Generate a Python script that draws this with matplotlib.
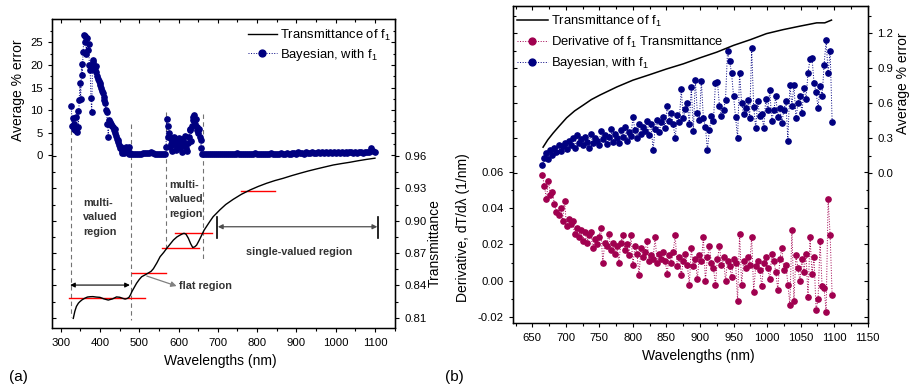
import matplotlib.pyplot as plt
from matplotlib.lines import Line2D
from matplotlib.ticker import MultipleLocator, FixedLocator, FormatStrFormatter

plt.rcParams['font.family'] = ['Liberation Sans', 'DejaVu Sans']
plt.rcParams['mathtext.fontset'] = 'custom'
plt.rcParams['mathtext.rm'] = 'Liberation Sans'
plt.rcParams['mathtext.it'] = 'Liberation Sans:italic'
plt.rcParams['axes.unicode_minus'] = False

NAVY = '#000080'
WINE = '#A0004F'
NOTE = '#333333'

# ---------------- (a) data ----------------
# transmittance of f1
lam_t = [332, 336, 340, 345, 349, 355, 362, 368, 375, 382, 390, 400, 410, 421, 432,
         442, 450, 458, 464, 470, 474, 478, 481, 487, 493, 500, 506, 515, 523, 530,
         536, 545, 553, 562, 570, 579, 587, 596, 604, 610, 614, 619, 625, 631, 636,
         641, 646, 652, 659, 665, 672, 680, 688, 697, 705, 720, 739, 760, 782, 803,
         824, 845, 866, 888, 909, 930, 951, 973, 994, 1015, 1036, 1057, 1079, 1100]
trans_t = [0.8094, 0.8160, 0.8205, 0.8235, 0.8250, 0.8268, 0.8282, 0.8292, 0.8295, 0.8296,
           0.8292, 0.8289, 0.8275, 0.8264, 0.8275, 0.8293, 0.8290, 0.8280, 0.8273, 0.8280,
           0.8290, 0.8315, 0.8341, 0.8380, 0.8419, 0.8455, 0.8480, 0.8498, 0.8515, 0.8530,
           0.8555, 0.8610, 0.8666, 0.8705, 0.8744, 0.8785, 0.8821, 0.8850, 0.8867, 0.8878,
           0.8883, 0.8875, 0.8837, 0.8785, 0.8752, 0.8757, 0.8774, 0.8815, 0.8867, 0.8912,
           0.8951, 0.8995, 0.9037, 0.9070, 0.9100, 0.9150, 0.9198, 0.9245, 0.9285, 0.9318,
           0.9347, 0.9372, 0.9393, 0.9418, 0.9440, 0.9461, 0.9480, 0.9499, 0.9517, 0.9530,
           0.9542, 0.9556, 0.9569, 0.9580]

# Bayesian average % error, with f1
lam_e1 = [327, 329, 331, 333, 335, 337, 339, 341, 343, 345,
          347, 349, 351, 353, 355, 357, 359, 361, 363, 365,
          367, 369, 371, 373, 375, 377, 379, 381, 383, 385,
          387, 389, 391, 393, 395, 397, 399, 401, 403, 405,
          407, 409, 411, 413, 415, 417, 419, 421, 423, 425,
          427, 429, 431, 433, 435, 437, 439, 441, 443, 445,
          447, 449, 451, 453, 455, 457, 459, 461, 463, 465,
          467, 469, 471, 473, 475, 477]
err_e1 = [11.0, 6.5, 8.2, 5.8, 7.0, 5.5, 8.5, 5.2, 9.8, 6.3,
          12.2, 15.9, 12.5, 20.3, 17.7, 22.9, 26.6, 25.0, 26.4, 22.5,
          26.0, 23.3, 24.6, 20.0, 18.9, 12.6, 9.6, 20.7, 21.0, 19.5,
          18.9, 19.8, 18.5, 17.6, 17.0, 16.5, 16.0, 15.5, 15.0, 14.2,
          13.8, 13.0, 12.2, 11.5, 10.0, 9.6, 7.0, 4.1, 7.8, 7.4,
          6.8, 7.0, 6.5, 6.2, 5.5, 5.8, 5.0, 4.3, 3.6, 3.0,
          3.3, 2.2, 1.5, 1.8, 0.9, 0.5, 1.0, 0.4, 0.6, 1.2,
          1.8, 1.5, 0.8, 1.7, 0.3, 0.4]
lam_e2 = [480, 485, 490, 495, 500, 505, 510, 515, 520, 525,
          530, 535, 540, 545, 550, 555, 560, 565]
err_e2 = [0.3, 0.3, 0.2, 0.3, 0.3, 0.3, 0.4, 0.5, 0.4, 0.5,
          0.6, 0.4, 0.3, 0.3, 0.3, 0.2, 0.3, 0.3]
lam_e3 = [568, 570, 572, 574, 576, 578, 580, 582, 584, 586,
          588, 590, 592, 594, 596, 598, 600, 602, 604, 606,
          608, 610, 612, 614, 616, 618, 620, 622, 624, 626,
          628, 630, 632, 634, 636, 638, 640, 642, 644, 646,
          648, 650, 652, 654, 656, 658, 660]
err_e3 = [1.8, 8.1, 6.5, 4.0, 5.0, 1.8, 3.5, 2.5, 1.0, 3.8,
          4.0, 2.2, 3.0, 1.2, 3.5, 2.6, 2.0, 3.8, 1.5, 2.8,
          3.5, 0.8, 3.4, 2.2, 4.3, 1.6, 2.5, 1.0, 2.8, 4.0,
          5.5, 5.9, 3.2, 6.5, 7.8, 8.4, 8.9, 7.0, 8.0, 5.5,
          6.2, 5.0, 5.9, 4.0, 3.4, 1.5, 0.3]
lam_e4 = [665, 670, 675, 680, 685, 690, 695, 700, 705, 710,
          715, 720, 725, 730, 735, 740, 745, 750, 755, 760,
          765, 770, 775, 780, 785, 790, 795, 800, 805, 810,
          815, 820, 825, 830, 835, 840, 845, 850, 855, 860,
          865, 870, 875, 880, 885, 890, 895, 900, 905, 910,
          915, 920, 925, 930, 935, 940, 945, 950, 955, 960,
          965, 970, 975, 980, 985, 990, 995, 1000, 1005, 1010,
          1015, 1020, 1025, 1030, 1035, 1040, 1045, 1050, 1055, 1060,
          1065, 1070, 1075, 1080, 1085, 1090, 1095, 1100]
err_e4 = [0.3, 0.3, 0.3, 0.3, 0.3, 0.3, 0.3, 0.3, 0.3, 0.3,
          0.3, 0.3, 0.3, 0.3, 0.3, 0.3, 0.3, 0.4, 0.3, 0.3,
          0.3, 0.3, 0.3, 0.3, 0.3, 0.3, 0.4, 0.3, 0.3, 0.3,
          0.3, 0.3, 0.3, 0.3, 0.4, 0.3, 0.3, 0.3, 0.3, 0.4,
          0.3, 0.3, 0.4, 0.3, 0.3, 0.5, 0.4, 0.3, 0.6, 0.4,
          0.5, 0.3, 0.6, 0.4, 0.5, 0.7, 0.4, 0.5, 0.6, 0.4,
          0.7, 0.5, 0.6, 0.4, 0.8, 0.5, 0.6, 0.5, 0.7, 0.5,
          0.6, 0.4, 0.7, 0.5, 0.8, 0.6, 0.5, 0.7, 0.5, 0.6,
          0.7, 0.5, 0.8, 0.6, 0.7, 1.5, 0.9, 0.8]

# region boundaries (wavelength, top error, bottom error)
bounds = [(326, 5.5, -35.9), (479, 7.0, -36.6), (568.7, 9.6, -21.1), (662, 9.2, -23.3)]
# transmittance levels (T, from, to)
levels = [(0.8280, 322, 514.5), (0.8512, 480.7, 568), (0.8744, 557, 652),
          (0.8883, 590.8, 684), (0.9278, 758, 845.3)]

# ---------------- (b) data ----------------
lam_b = [665, 668, 671, 674, 677, 680, 683, 686, 689, 692,
         695, 698, 701, 704, 707, 710, 713, 716, 719, 722,
         725, 728, 731, 734, 737, 740, 743, 746, 749, 752,
         755, 758, 761, 764, 767, 770, 773, 776, 779, 782,
         785, 788, 791, 794, 797, 800, 803, 806, 809, 812,
         815, 818, 821, 824, 827, 830, 833, 836, 839, 842,
         845, 848, 851, 854, 857, 860, 863, 866, 869, 872,
         875, 878, 881, 884, 887, 890, 893, 896, 899, 902,
         905, 908, 911, 914, 917, 920, 923, 926, 929, 932,
         935, 938, 941, 944, 947, 950, 953, 956, 959, 962,
         965, 968, 971, 974, 977, 980, 983, 986, 989, 992,
         995, 998, 1001, 1004, 1007, 1010, 1013, 1016, 1019, 1022,
         1025, 1028, 1031, 1034, 1037, 1040, 1043, 1046, 1049, 1052,
         1055, 1058, 1061, 1064, 1067, 1070, 1073, 1076, 1079, 1082,
         1085, 1088, 1091, 1094, 1097]
deriv_b = [0.058, 0.052, 0.045, 0.055, 0.047, 0.049, 0.042, 0.038, 0.036, 0.040,
           0.033, 0.044, 0.030, 0.034, 0.031, 0.033, 0.026, 0.029, 0.024, 0.028,
           0.022, 0.027, 0.021, 0.025, 0.027, 0.018, 0.023, 0.020, 0.024, 0.029,
           0.010, 0.021, 0.019, 0.026, 0.017, 0.021, 0.015, 0.019, 0.010, 0.021,
           0.025, 0.017, 0.020, 0.014, 0.025, 0.009, 0.019, 0.015, 0.003, 0.018,
           0.013, 0.016, 0.022, 0.011, 0.014, 0.012, 0.024, 0.010, 0.015, 0.012,
           0.016, 0.011, 0.004, 0.014, 0.010, 0.016, 0.025, 0.008, 0.013, 0.003,
           0.011, 0.015, 0.009, -0.002, 0.018, 0.008, 0.012, 0.001, 0.014, 0.011,
           0.024, 0.000, 0.013, 0.019, 0.010, 0.007, -0.002, 0.012, 0.019, 0.009,
           0.013, 0.000, 0.011, 0.008, 0.002, 0.012, 0.010, -0.011, 0.026, -0.002,
           0.011, 0.007, 0.013, 0.009, 0.024, -0.006, 0.008, 0.011, 0.006, -0.003,
           0.010, 0.013, 0.007, 0.001, 0.015, 0.011, 0.005, -0.005, 0.012, 0.018,
           0.006, 0.009, -0.002, -0.013, 0.028, -0.011, 0.014, 0.007, 0.000, 0.012,
           0.005, 0.015, -0.009, 0.024, 0.004, 0.013, -0.016, -0.010, 0.022, -0.003,
           -0.004, -0.017, 0.045, 0.025, -0.008]
bayes_b = [0.07, 0.13, 0.17, 0.12, 0.20, 0.16, 0.22, 0.18, 0.24, 0.19,
           0.23, 0.26, 0.21, 0.28, 0.24, 0.30, 0.22, 0.33, 0.26, 0.29,
           0.24, 0.31, 0.27, 0.22, 0.34, 0.26, 0.30, 0.28, 0.24, 0.36,
           0.29, 0.33, 0.25, 0.31, 0.38, 0.27, 0.34, 0.30, 0.26, 0.37,
           0.31, 0.40, 0.28, 0.35, 0.32, 0.48, 0.37, 0.30, 0.42, 0.34,
           0.40, 0.36, 0.45, 0.33, 0.42, 0.20, 0.38, 0.46, 0.35, 0.44,
           0.48, 0.39, 0.58, 0.45, 0.52, 0.42, 0.30, 0.50, 0.44, 0.72,
           0.47, 0.55, 0.60, 0.42, 0.74, 0.36, 0.80, 0.52, 0.46, 0.79,
           0.47, 0.40, 0.20, 0.37, 0.49, 0.45, 0.77, 0.78, 0.58, 0.49,
           0.54, 0.63, 1.05, 0.96, 0.86, 0.66, 0.48, 0.30, 0.86, 0.60,
           0.51, 0.56, 0.63, 0.47, 1.07, 0.57, 0.39, 0.62, 0.49, 0.51,
           0.39, 0.64, 0.54, 0.71, 0.45, 0.54, 0.66, 0.48, 0.56, 0.43,
           0.54, 0.62, 0.28, 0.76, 0.58, 0.76, 0.47, 0.60, 0.66, 0.52,
           0.73, 0.64, 0.86, 0.98, 0.99, 0.77, 0.70, 0.56, 0.75, 0.66,
           0.93, 1.14, 0.86, 1.05, 0.44]
lam_tb = [666, 673, 681, 690, 701, 713, 726, 738, 751, 776, 800, 825, 850, 875,
          900, 925, 950, 975, 999, 1024, 1049, 1074, 1086, 1096]
trans_b = [0.8890, 0.8930, 0.8967, 0.9005, 0.9050, 0.9088, 0.9120, 0.9150, 0.9175,
           0.9219, 0.9256, 0.9286, 0.9317, 0.9345, 0.9378, 0.9409, 0.9446, 0.9477,
           0.9510, 0.9532, 0.9551, 0.9569, 0.9569, 0.9584]

W, H = 909, 392


def fx(x):
    return x / W


def fy(y):
    return 1 - y / H


def style_ticks(ax, **kw):
    ax.tick_params(which='major', length=3.2, width=0.8, labelsize=8.2, **kw)
    ax.tick_params(which='minor', length=1.8, width=0.8, **kw)


fig = plt.figure(figsize=(W / 100, H / 100), dpi=100)

# ================= panel (a) =================
ax1 = fig.add_axes([fx(52.3), fy(328.3), fx(395 - 52.3), (328.3 - 19) / H])
ax2 = ax1.twinx()

for x, top, bot in bounds:
    ax1.plot([x, x], [top, bot], color='0.45', ls=(0, (4, 3)), lw=0.8, zorder=1)

lam_err = lam_e1 + lam_e2 + lam_e3 + lam_e4
err = err_e1 + err_e2 + err_e3 + err_e4
ax1.plot(lam_err, err, color=NAVY, ls=':', lw=0.7, marker='o', ms=3.8, zorder=3)

ax1.set_xlim(278.6, 1151)
ax1.set_ylim(-38.4, 30.2)
ax1.xaxis.set_major_locator(MultipleLocator(100))
ax1.xaxis.set_minor_locator(MultipleLocator(50))
ax1.yaxis.set_major_locator(FixedLocator([0, 5, 10, 15, 20, 25]))
ax1.yaxis.set_minor_locator(FixedLocator([2.5, 7.5, 12.5, 17.5, 22.5, 27.5]))
style_ticks(ax1, direction='out')

ax2.plot(lam_t, trans_t, color='black', lw=1.0, zorder=3)
for t, x0, x1 in levels:
    ax2.plot([x0, x1], [t, t], color='red', lw=1.0, zorder=2)
ax2.set_ylim(0.8002, 1.0871)
ax2.yaxis.set_major_locator(FixedLocator([0.81, 0.84, 0.87, 0.90, 0.93, 0.96]))
ax2.yaxis.set_minor_locator(FixedLocator([0.825, 0.855, 0.885, 0.915, 0.945]))
ax2.yaxis.set_major_formatter(FormatStrFormatter('%.2f'))
style_ticks(ax2, direction='out')

# mirrored inner ticks
top_a = ax1.secondary_xaxis('top')
top_a.xaxis.set_major_locator(MultipleLocator(100))
top_a.xaxis.set_minor_locator(MultipleLocator(50))
style_ticks(top_a, direction='in', labeltop=False)
rin_a = ax1.secondary_yaxis('right')
rin_a.yaxis.set_major_locator(FixedLocator([0, 5, 10, 15, 20, 25]))
rin_a.yaxis.set_minor_locator(FixedLocator([2.5, 7.5, 12.5, 17.5, 22.5, 27.5]))
style_ticks(rin_a, direction='in', labelright=False)
lin_a = ax2.secondary_yaxis('left')
lin_a.yaxis.set_major_locator(FixedLocator([0.81, 0.84, 0.87, 0.90, 0.93, 0.96]))
lin_a.yaxis.set_minor_locator(FixedLocator([0.825, 0.855, 0.885, 0.915, 0.945]))
style_ticks(lin_a, direction='in', labelleft=False)

# region annotations
ax2.annotate('', xy=(324, 0.8403), xytext=(476, 0.8403),
             arrowprops=dict(arrowstyle='<|-|>', color='black', lw=0.8,
                             mutation_scale=7, shrinkA=0, shrinkB=0))
ax2.annotate('', xy=(595, 0.8394), xytext=(519, 0.8487),
             arrowprops=dict(arrowstyle='-|>', color='0.5', lw=0.9,
                             mutation_scale=8, shrinkA=0, shrinkB=0))
ax2.plot([698.5, 698.5], [0.8837, 0.9037], color='black', lw=1.2)
ax2.plot([1108, 1108], [0.8837, 0.9037], color='black', lw=1.2)
ax2.annotate('', xy=(700, 0.8944), xytext=(1106, 0.8944),
             arrowprops=dict(arrowstyle='<|-|>', color='0.3', lw=0.9,
                             mutation_scale=7, shrinkA=0, shrinkB=0))

txt = dict(fontsize=7.8, fontweight='bold', color=NOTE, linespacing=1.55)
ax2.text(357.5, 0.9031, 'multi-\nvalued\nregion', ha='left', va='center', **txt)
ax2.text(575.6, 0.9200, 'multi-\nvalued\nregion', ha='left', va='center', **txt)
ax2.text(906.5, 0.8712, 'single-valued region', ha='center', va='center', **txt)
ax2.text(669, 0.8394, 'flat region', ha='center', va='center', **txt)

for ax in (ax1, ax2):
    for sp in ax.spines.values():
        sp.set_linewidth(0.9)

handles_a = [Line2D([], [], color='black', lw=1.0),
             Line2D([], [], color=NAVY, ls=':', lw=0.7, marker='o', ms=3.8)]
ax2.legend(handles_a, ['Transmittance of f$_1$', 'Bayesian, with f$_1$'],
           loc='upper left', bbox_to_anchor=(fx(248), fy(28)),
           bbox_transform=fig.transFigure, frameon=False, fontsize=9.4,
           borderpad=0, borderaxespad=0, handlelength=2.2, handletextpad=0.25,
           labelspacing=0.3, markerscale=1.3)

fig.text(fx(18.3), fy(90), 'Average % error', rotation=90, ha='center', va='center', fontsize=10)
fig.text(fx(435), fy(243), 'Transmittance', rotation=90, ha='center', va='center', fontsize=10)
fig.text(fx(220), fy(360.7), 'Wavelengths (nm)', ha='center', va='center', fontsize=10)
fig.text(fx(18.3), fy(376.7), '(a)', ha='center', va='center', fontsize=11)

# ================= panel (b) =================
bx1 = fig.add_axes([fx(512.7), fy(323.3), fx(867.7 - 512.7), (323.3 - 6) / H])
bx2 = bx1.twinx()
bx3 = bx1.twinx()

bx1.plot(lam_b, deriv_b, color=WINE, ls=':', lw=0.7, marker='o', ms=3.8)
bx1.set_xlim(620.7, 1150)
bx1.set_ylim(-0.0233, 0.151)
bx1.xaxis.set_major_locator(MultipleLocator(50))
bx1.xaxis.set_minor_locator(MultipleLocator(25))
bx1.yaxis.set_major_locator(FixedLocator([-0.02, 0.0, 0.02, 0.04, 0.06]))
bx1.yaxis.set_minor_locator(FixedLocator([-0.01, 0.01, 0.03, 0.05]))
bx1.yaxis.set_major_formatter(FormatStrFormatter('%.2f'))
style_ticks(bx1, direction='out')

bx2.plot(lam_b, bayes_b, color=NAVY, ls=':', lw=0.7, marker='o', ms=3.8)
bx2.set_ylim(-1.286, 1.434)
bx2.yaxis.set_major_locator(FixedLocator([0.0, 0.3, 0.6, 0.9, 1.2]))
bx2.yaxis.set_minor_locator(FixedLocator([0.15, 0.45, 0.75, 1.05, 1.35]))
bx2.yaxis.set_major_formatter(FormatStrFormatter('%.1f'))
style_ticks(bx2, direction='out')

bx3.plot(lam_tb, trans_b, color='black', lw=1.1)
bx3.set_ylim(0.7928, 0.9661)
bx3.axis('off')

top_b = bx1.secondary_xaxis('top')
top_b.xaxis.set_major_locator(MultipleLocator(50))
top_b.xaxis.set_minor_locator(MultipleLocator(25))
style_ticks(top_b, direction='in', labeltop=False)
rin_b = bx1.secondary_yaxis('right')
rin_b.yaxis.set_major_locator(FixedLocator([-0.02, 0.0, 0.02, 0.04, 0.06]))
rin_b.yaxis.set_minor_locator(FixedLocator([-0.01, 0.01, 0.03, 0.05]))
style_ticks(rin_b, direction='in', labelright=False)
lin_b = bx2.secondary_yaxis('left')
lin_b.yaxis.set_major_locator(FixedLocator([0.0, 0.3, 0.6, 0.9, 1.2]))
lin_b.yaxis.set_minor_locator(FixedLocator([0.15, 0.45, 0.75, 1.05, 1.35]))
style_ticks(lin_b, direction='in', labelleft=False)

for ax in (bx1, bx2):
    for sp in ax.spines.values():
        sp.set_linewidth(0.9)

handles_b = [Line2D([], [], color='black', lw=1.1),
             Line2D([], [], color=WINE, ls=':', lw=0.7, marker='o', ms=3.8),
             Line2D([], [], color=NAVY, ls=':', lw=0.7, marker='o', ms=3.8)]
bx3.legend(handles_b, ['Transmittance of f$_1$', 'Derivative of f$_1$ Transmittance',
                       'Bayesian, with f$_1$'],
           loc='upper left', bbox_to_anchor=(fx(516.7), fy(13.5)),
           bbox_transform=fig.transFigure, frameon=False, fontsize=9.4,
           borderpad=0, borderaxespad=0, handlelength=2.4, handletextpad=0.2,
           labelspacing=0.45, markerscale=1.3)

fig.text(fx(463), fy(227.5), 'Derivative, dT/d\u03bb (1/nm)', rotation=90,
         ha='center', va='center', fontsize=10)
fig.text(fx(903.3), fy(83.3), 'Average % error', rotation=90, ha='center', va='center', fontsize=10)
fig.text(fx(698.3), fy(355.7), 'Wavelengths (nm)', ha='center', va='center', fontsize=10)
fig.text(fx(454), fy(376.7), '(b)', ha='center', va='center', fontsize=11)

fig.savefig('out.png', dpi=100)
